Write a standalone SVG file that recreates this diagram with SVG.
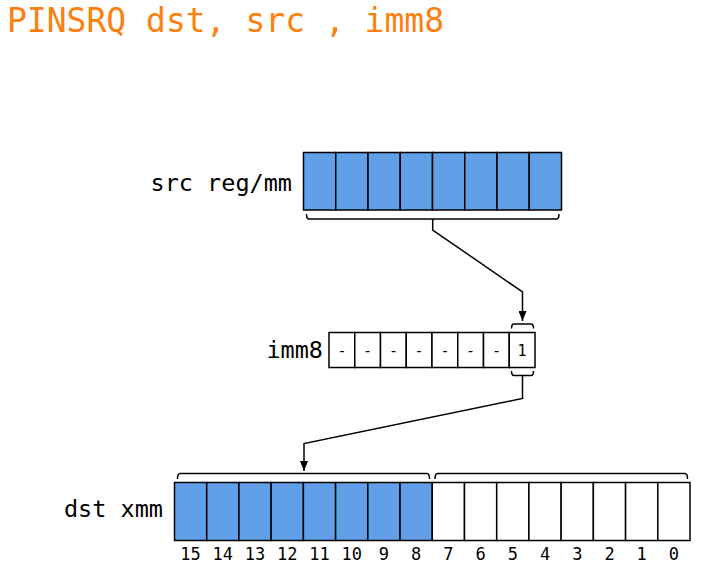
<svg xmlns="http://www.w3.org/2000/svg" width="702" height="576" viewBox="0 0 702 576">
<style>
.t{font-family:"DejaVu Sans Mono","Liberation Mono",monospace;fill:#000}
.lbl{font-size:23.5px;text-anchor:end}
.num{font-size:17px;text-anchor:middle}
.bit{font-size:15px;text-anchor:middle}
.cell{stroke:#000;stroke-width:1.5}
.blue{fill:#61a0e8}
.white{fill:#fff}
.br{fill:none;stroke:#000;stroke-width:1.5}
.con{fill:none;stroke:#000;stroke-width:1.5}
</style>
<defs>
<marker id="arr" viewBox="0 0 10 8" refX="10" refY="4" markerWidth="10" markerHeight="8" markerUnits="userSpaceOnUse" orient="auto">
<path d="M0,0 L10,4 L0,8 Z" fill="#000"/>
</marker>
</defs>
<rect width="702" height="576" fill="#fff"/>
<text x="7" y="32" style="font-family:'DejaVu Sans Mono','Liberation Mono',monospace;font-size:33px;fill:#ff7f0e">PINSRQ dst, src , imm8</text>

<g id="src">
<text class="t lbl" x="292" y="191">src reg/mm</text>
<rect class="cell blue" x="303.5" y="152.5" width="32.25" height="57.5"/>
<rect class="cell blue" x="335.75" y="152.5" width="32.25" height="57.5"/>
<rect class="cell blue" x="368" y="152.5" width="32.25" height="57.5"/>
<rect class="cell blue" x="400.25" y="152.5" width="32.25" height="57.5"/>
<rect class="cell blue" x="432.5" y="152.5" width="32.25" height="57.5"/>
<rect class="cell blue" x="464.75" y="152.5" width="32.25" height="57.5"/>
<rect class="cell blue" x="497" y="152.5" width="32.25" height="57.5"/>
<rect class="cell blue" x="529.25" y="152.5" width="32.25" height="57.5"/>
<path class="br" d="M306.5,214 Q306.5,219 309,219 H556.5 Q559,219 559,214"/>
</g>

<g id="imm8">
<text class="t lbl" x="323" y="358">imm8</text>
<rect class="cell white" x="329" y="332.5" width="25.75" height="35"/>
<rect class="cell white" x="354.75" y="332.5" width="25.75" height="35"/>
<rect class="cell white" x="380.5" y="332.5" width="25.75" height="35"/>
<rect class="cell white" x="406.25" y="332.5" width="25.75" height="35"/>
<rect class="cell white" x="432" y="332.5" width="25.75" height="35"/>
<rect class="cell white" x="457.75" y="332.5" width="25.75" height="35"/>
<rect class="cell white" x="483.5" y="332.5" width="25.75" height="35"/>
<rect class="cell white" x="509.25" y="332.5" width="25.75" height="35"/>
<text class="t bit" x="341.9" y="356">-</text>
<text class="t bit" x="367.6" y="356">-</text>
<text class="t bit" x="393.4" y="356">-</text>
<text class="t bit" x="419.1" y="356">-</text>
<text class="t bit" x="444.9" y="356">-</text>
<text class="t bit" x="470.6" y="356">-</text>
<text class="t bit" x="496.4" y="356">-</text>
<text class="t bit" x="522.1" y="356">1</text>
<path class="br" d="M511.5,328.5 Q511.5,324 514,324 H531 Q533.5,324 533.5,328.5"/>
<path class="br" d="M511.5,371 Q511.5,375.5 514,375.5 H531 Q533.5,375.5 533.5,371"/>
</g>

<g id="dst">
<text class="t lbl" x="163" y="517">dst xmm</text>
<g class="cell blue">
<rect x="174.5" y="482.5" width="32.22" height="58"/>
<rect x="206.72" y="482.5" width="32.22" height="58"/>
<rect x="238.94" y="482.5" width="32.22" height="58"/>
<rect x="271.16" y="482.5" width="32.22" height="58"/>
<rect x="303.38" y="482.5" width="32.22" height="58"/>
<rect x="335.6" y="482.5" width="32.22" height="58"/>
<rect x="367.82" y="482.5" width="32.22" height="58"/>
<rect x="400.04" y="482.5" width="32.22" height="58"/>
</g>
<g class="cell white">
<rect x="432.26" y="482.5" width="32.22" height="58"/>
<rect x="464.48" y="482.5" width="32.22" height="58"/>
<rect x="496.7" y="482.5" width="32.22" height="58"/>
<rect x="528.92" y="482.5" width="32.22" height="58"/>
<rect x="561.14" y="482.5" width="32.22" height="58"/>
<rect x="593.36" y="482.5" width="32.22" height="58"/>
<rect x="625.58" y="482.5" width="32.22" height="58"/>
<rect x="657.8" y="482.5" width="32.22" height="58"/>
</g>
<text class="t num" x="190.6" y="560">15</text>
<text class="t num" x="222.8" y="560">14</text>
<text class="t num" x="255.1" y="560">13</text>
<text class="t num" x="287.3" y="560">12</text>
<text class="t num" x="319.5" y="560">11</text>
<text class="t num" x="351.7" y="560">10</text>
<text class="t num" x="383.9" y="560">9</text>
<text class="t num" x="416.2" y="560">8</text>
<text class="t num" x="448.4" y="560">7</text>
<text class="t num" x="480.6" y="560">6</text>
<text class="t num" x="512.8" y="560">5</text>
<text class="t num" x="545" y="560">4</text>
<text class="t num" x="577.3" y="560">3</text>
<text class="t num" x="609.5" y="560">2</text>
<text class="t num" x="641.7" y="560">1</text>
<text class="t num" x="673.9" y="560">0</text>
<path class="br" d="M177.5,479 Q177.5,473.5 180,473.5 H427 Q429.5,473.5 429.5,479"/>
<path class="br" d="M435,479 Q435,473.5 437.5,473.5 H685 Q687.5,473.5 687.5,479"/>
</g>

<g id="connectors">
<path class="con" d="M432.7,219 V230 L522.5,292 V321" marker-end="url(#arr)"/>
<path class="con" d="M522.5,375.5 V398.5 L304,443.5 V471" marker-end="url(#arr)"/>
</g>
</svg>
